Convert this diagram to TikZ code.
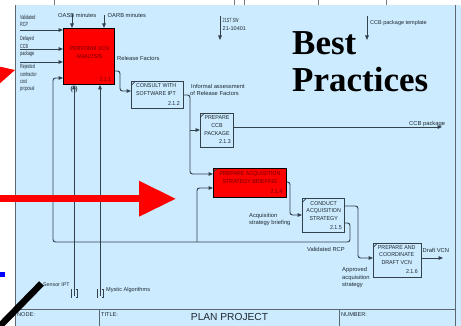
\documentclass[tikz,border=0pt]{standalone}
\usepackage{fontspec}
\setmainfont{Liberation Sans}
\newfontfamily\nfont[FakeStretch=0.62]{Liberation Sans}
\newfontfamily\bfont[FakeStretch=0.93]{Liberation Sans}
\newfontfamily\bpfont{Liberation Serif}
\usetikzlibrary{arrows.meta}
\definecolor{bgblue}{HTML}{CCEBFF}
\definecolor{ln}{HTML}{33414D}
\definecolor{tx}{HTML}{1E2830}
\definecolor{dred}{HTML}{6E0000}
\begin{document}
\begin{tikzpicture}[x=1pt,y=-1pt,
  conn/.style={draw=ln, line width=0.95pt, rounded corners=2.5pt, -{Triangle[length=4.5pt,width=3.6pt]}},
  actbox/.style={draw=ln, line width=1pt, fill=bgblue, inner sep=0, anchor=north west},
  redbox/.style={draw=black, line width=0.8pt, fill=red, inner sep=0, anchor=north west},
  lbl/.style={inner sep=0, anchor=base west, text=tx, font=\fontsize{5.8}{7}\selectfont},
  nlbl/.style={inner sep=0, anchor=base west, text=tx, font=\nfont\fontsize{6}{7}\selectfont},
  btxt/.style={inner sep=0, align=center, text=tx, font=\bfont\fontsize{5.7}{7.8}\selectfont},
  bnum/.style={inner sep=0, anchor=base east, text=tx, font=\bfont\fontsize{5.7}{7}\selectfont},
  corner/.style={draw=ln, line width=0.6pt},
  frame/.style={draw=ln!80, line width=0.8pt},
]
\useasboundingbox (0,0) rectangle (461,326);
% background
\fill[white] (0,0) rectangle (461,326);
\fill[bgblue] (15,5.5) rectangle (461,326);
\foreach \tx in {54,234,244,318,386} \draw[ln!70, line width=0.6pt] (\tx,0) -- (\tx,5.5);
\draw[frame] (15,5.5) -- (15,326);
\draw[frame] (455,5.5) -- (455,326);
\draw[frame] (15,309) -- (455,309);
\draw[frame] (99,309) -- (99,326);
\draw[frame] (339,309) -- (339,326);
\node[lbl, font=\fontsize{5.6}{7}\selectfont] (nodel) at (17,316.7) {NODE:};
\node[lbl, font=\fontsize{5.6}{7}\selectfont] (titlel) at (101,316.7) {TITLE:};
\node[lbl, font=\fontsize{5.6}{7}\selectfont] (numl) at (341,316.7) {NUMBER:};
\node[inner sep=0, anchor=base, text=tx, font=\fontsize{10.2}{12}\selectfont] (plan) at (229.5,320.7) {PLAN PROJECT};

% Best Practices
\node[inner sep=0, anchor=base west, font=\bpfont\bfseries\fontsize{35}{40}\selectfont] (best) at (292,55) {Best};
\node[inner sep=0, anchor=base west, font=\bpfont\bfseries\fontsize{35}{40}\selectfont] (prac) at (292,92) {Practices};

% boxes
\node[redbox, minimum width=51pt, minimum height=56pt] (a1) at (63,28) {};
\node[actbox, minimum width=52pt, minimum height=27pt] (a2) at (131,81) {};
\node[actbox, minimum width=33pt, minimum height=34pt] (a3) at (200,113) {};
\node[redbox, minimum width=73pt, minimum height=29pt] (a4) at (213,168) {};
\node[actbox, minimum width=42pt, minimum height=34pt] (a5) at (302,198) {};
\node[actbox, minimum width=48pt, minimum height=34pt] (a6) at (373,243) {};
\foreach \b in {a2,a3,a4,a5,a6}
  \draw[corner] ([shift={(0.6,4)}]\b.north west) -- ([shift={(4,0.6)}]\b.north west);

\node[btxt, text=dred] (t1) at (89.5,52.2) {PERFORM VCN\\ANALYSIS};
\node[btxt, align=left, anchor=west] (t2) at (136,89.7) {CONSULT WITH\\SOFTWARE IPT};
\node[btxt] (t3) at (217,125.5) {PREPARE\\CCB\\PACKAGE};
\node[btxt, text=dred] (t4) at (250,177.8) {PREPARE ACQUISITION\\STRATEGY BRIEFING};
\node[btxt, font=\bfont\fontsize{5.7}{7.5}\selectfont] (t5) at (323.7,210.9) {CONDUCT\\ACQUISITION\\STRATEGY};
\node[btxt] (t6) at (396.7,255) {PREPARE AND\\COORDINATE\\DRAFT VCN};
\node[bnum, text=dred] (n1) at (111.5,81.7) {2.1.1};
\node[bnum] (n2) at (180,105.5) {2.1.2};
\node[bnum] (n3) at (231,143.7) {2.1.3};
\node[bnum, text=dred] (n4) at (282.5,193.7) {2.1.4};
\node[bnum] (n5) at (342,229.3) {2.1.5};
\node[bnum] (n6) at (418,273.3) {2.1.6};

% inputs of 2.1.1
\coordinate (in1) at (20,30);
\coordinate (in2) at (20,49);
\coordinate (in3) at (20,62);
\draw[conn] (in1) -- (in1 -| a1.west);
\draw[conn] (in2) -- (in2 -| a1.west);
\draw[conn] (in3) -- (in3 -| a1.west);
\node[nlbl] (l1a) at (20,19.3) {Validated};
\node[nlbl] (l1b) at (20,26.7) {RCP};
\node[nlbl] (l2a) at (20,41) {Delayed};
\node[nlbl] (l2b) at (20,48.3) {CCB};
\node[nlbl] (l2c) at (20,55.5) {package};
\node[nlbl] (l3a) at (20,69) {Rejected};
\node[nlbl] (l3b) at (20,76.7) {contractor};
\node[nlbl] (l3c) at (20,84) {cost};
\node[nlbl] (l3d) at (20,91) {proposal};

% controls of 2.1.1
\coordinate (c1) at (72,14);
\coordinate (c2) at (104,15);
\draw[conn] (c1) -- (c1 |- a1.north);
\draw[conn] (c2) -- (c2 |- a1.north);
\node[lbl] (lc1) at (58,17.5) {OASB minutes};
\node[lbl] (lc2) at (107.5,18) {OARB minutes};

% mechanisms of 2.1.1
\coordinate (m1) at (74,296);
\coordinate (m2) at (100,296);
\draw[conn] (m1) -- (m1 |- a1.south);
\draw[conn] (m2) -- (m2 |- a1.south);
\draw[ln, line width=0.7pt] (72.3,85.8) .. controls (70.6,87.5) and (70.6,90.5) .. (72.3,92.2);
\draw[ln, line width=0.7pt] (75.7,85.8) .. controls (77.4,87.5) and (77.4,90.5) .. (75.7,92.2);
\draw[ln, line width=0.7pt] (72.2,289) -- (71,289) -- (71,297) -- (72.2,297);
\draw[ln, line width=0.7pt] (75.8,289) -- (77,289) -- (77,297) -- (75.8,297);
\draw[ln, line width=0.7pt] (98.2,289) -- (97,289) -- (97,297) -- (98.2,297);
\draw[ln, line width=0.7pt] (101.8,289) -- (103,289) -- (103,297) -- (101.8,297);
\node[lbl, font=\fontsize{5.3}{7}\selectfont] (lm1) at (43,287) {Sensor IPT};
\node[lbl, font=\fontsize{5.6}{7}\selectfont] (lm2) at (106,291.7) {Mystic Algorithms};

% 2.1.1 -> 2.1.2
\draw[conn] (a1.east |- 0,71) -- (120,71) -- (120,91) -- (a2.west |- 0,91);
\node[lbl] (lrf) at (117,60.5) {Release Factors};

% 2.1.2 -> 2.1.3 and 2.1.4
\coordinate (j1) at (190,130);
\draw[conn] (a2.east |- 0,95) -- (190,95) -- (190,174) -- (a4.west |- 0,174);
\draw[conn] (j1) -- (j1 -| a3.west);
\node[lbl] (lia) at (191,88.5) {Informal assessment};
\node[lbl] (lib) at (190,95.3) {of Release Factors};

% 2.1.3 output
\coordinate (o3) at (442,127);
\draw[conn] (o3 -| a3.east) -- (o3);
\node[lbl] (lccb) at (409,125.3) {CCB package};

% 2.1.4 -> 2.1.5
\draw[conn] (a4.east |- 0,182) -- (290,182) -- (290,215) -- (a5.west |- 0,215);
\node[lbl] (lasa) at (249,218) {Acquisition};
\node[lbl] (lasb) at (249,224.7) {strategy briefing};

% 2.1.5 -> 2.1.6
\draw[conn] (a5.east |- 0,206) -- (358,206) -- (358,258) -- (a6.west |- 0,258);
\node[lbl] (lap1) at (342,272) {Approved};
\node[lbl] (lap2) at (342,279.3) {acquisition};
\node[lbl] (lap3) at (342,286.5) {strategy};

% Validated RCP feedback
\coordinate (j2) at (197,242);
\draw[conn] (a5.east |- 0,223) -- (350,223) -- (350,242) -- (53,242) -- (53,78) -- (a1.west |- 0,78);
\draw[conn] (j2) -- (197,188) -- (a4.west |- 0,188);
\node[lbl] (lvr) at (307,251.7) {Validated RCP};

% 2.1.6 output
\coordinate (o6) at (443,258);
\draw[conn] (o6 -| a6.east) -- (o6);
\node[lbl] (ldv) at (422.5,252.7) {Draft VCN};

% dangling controls
\coordinate (s1) at (220,16);
\coordinate (s1e) at (220,40);
\draw[conn] (s1) -- (s1e);
\node[lbl, font=\nfont\fontsize{6}{7}\selectfont] (ls1a) at (222.5,22.5) {21ST SW};
\node[lbl, font=\fontsize{5.5}{7}\selectfont] (ls1b) at (222.5,30.5) {21-10401};
\coordinate (s2) at (367,16);
\coordinate (s2e) at (367,40);
\draw[conn] (s2) -- (s2e);
\node[lbl, font=\fontsize{5.5}{7}\selectfont] (ls2) at (370,25) {CCB package template};

% overlays
\fill[red] (0,66.7) -- (15,70) -- (0,83.3) -- cycle;
\fill[red] (0,195) rectangle (139.5,202.5);
\fill[red] (139,180.7) -- (175.5,198.8) -- (139,216.7) -- cycle;
\draw[black, line width=6.5pt] (-2,328) -- (41.5,283.5);
\fill[blue] (0,272) rectangle (5,277);
\end{tikzpicture}
\end{document}
